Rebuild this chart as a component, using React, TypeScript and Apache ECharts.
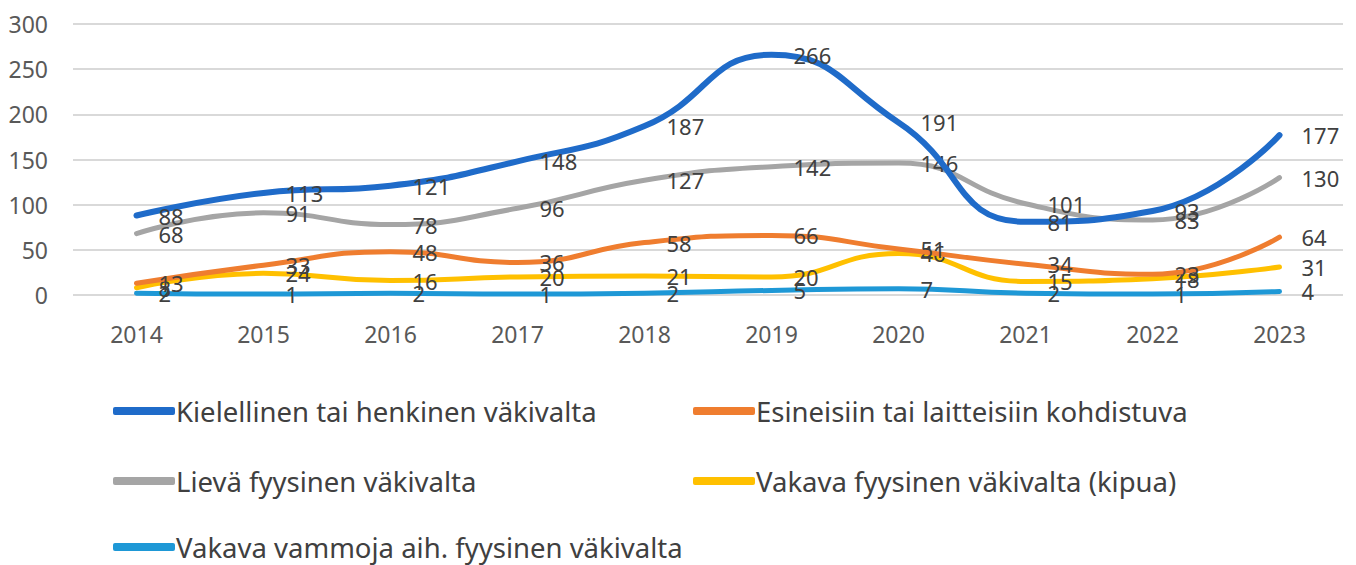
import React, { useEffect, useRef } from "react";
import * as echarts from "echarts";

const years = ["2014", "2015", "2016", "2017", "2018", "2019", "2020", "2021", "2022", "2023"];
const kielellinen = [88, 113, 121, 148, 187, 266, 191, 81, 93, 177];
const esineisiin = [13, 33, 48, 36, 58, 66, 51, 34, 23, 64];
const lieva = [68, 91, 78, 96, 127, 142, 146, 101, 83, 130];
const vakavaKipua = [8, 24, 16, 20, 21, 20, 46, 15, 18, 31];
const vakavaVammoja = [2, 1, 2, 1, 2, 5, 7, 2, 1, 4];

const seriesNames = [
  "Kielellinen tai henkinen väkivalta",
  "Esineisiin tai laitteisiin kohdistuva",
  "Lievä fyysinen väkivalta",
  "Vakava fyysinen väkivalta (kipua)",
  "Vakava vammoja aih. fyysinen väkivalta",
];
const seriesData = [kielellinen, esineisiin, lieva, vakavaKipua, vakavaVammoja];
const colors = ["#1F6BC9", "#EF7D2F", "#A5A5A5", "#FFC000", "#1E98D6"];
const widths = [6, 5, 5, 5, 5];
const legendPos = [
  { left: 113, top: 397 },
  { left: 693, top: 397 },
  { left: 113, top: 467 },
  { left: 693, top: 467 },
  { left: 113, top: 533 },
];

const FONT = "Noto Sans";

export default function App() {
  const ref = useRef<HTMLDivElement>(null);
  useEffect(() => {
    if (!ref.current) return;
    const chart = echarts.init(ref.current, undefined, { renderer: "svg" });
    chart.setOption({
      animation: false,
      backgroundColor: "#ffffff",
      textStyle: { fontFamily: FONT },
      grid: { left: 73, right: 13, top: 24, height: 271 },
      xAxis: {
        type: "category",
        data: years,
        boundaryGap: true,
        axisLine: { show: false },
        axisTick: { show: false },
        axisLabel: { color: "#595959", fontSize: 23, margin: 27, fontFamily: FONT },
      },
      yAxis: {
        type: "value",
        min: 0,
        max: 300,
        interval: 50,
        axisLine: { show: false },
        axisTick: { show: false },
        axisLabel: { color: "#595959", fontSize: 23, margin: 25, fontFamily: FONT },
        splitLine: { lineStyle: { color: "#D9D9D9", width: 2 } },
      },
      legend: seriesNames.map((n, i) => ({
        data: [n],
        left: legendPos[i].left,
        top: legendPos[i].top,
        icon: "roundRect",
        itemWidth: 62,
        itemHeight: 8,
        itemGap: 0,
        padding: 0,
        itemStyle: { color: colors[i], opacity: 1, borderWidth: 0 },
        textStyle: { color: "#404040", fontSize: 27.5, fontFamily: FONT, padding: [0, 0, 0, -4] },
      })),
      series: seriesNames.map((n, i) => ({
        name: n,
        type: "line",
        data: seriesData[i],
        smooth: 0.5,
        symbol: "circle",
        symbolSize: 0,
        showSymbol: true,
        showAllSymbol: true,
        itemStyle: { color: colors[i] },
        color: colors[i],
        lineStyle: { color: colors[i], width: widths[i], cap: "round" },
        label: {
          show: true,
          position: "right",
          distance: 22,
          color: "#404040",
          fontSize: 22,
          fontFamily: FONT,
        },
        labelLayout: { hideOverlap: false },
        z: 10 - i,
      })),
    });
    return () => chart.dispose();
  }, []);
  return (
    <div
      ref={ref}
      style={{ position: "absolute", left: 0, top: 0, width: 1356, height: 565 }}
    />
  );
}
